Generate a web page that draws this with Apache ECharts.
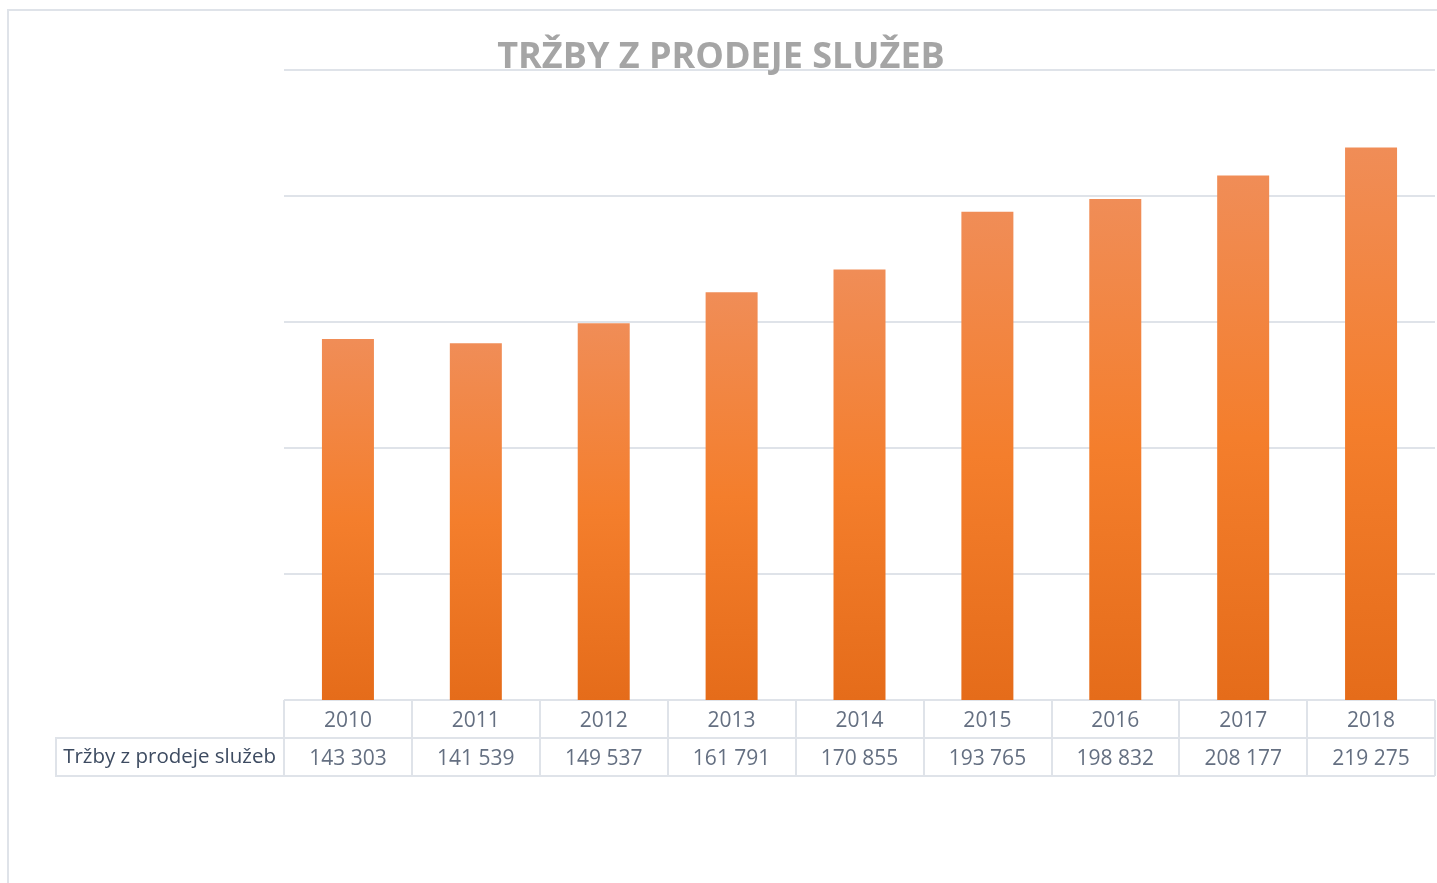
<!DOCTYPE html>
<html>
<head>
<meta charset="utf-8">
<script src="https://cdn.jsdelivr.net/npm/echarts@6/dist/echarts.min.js"></script>
<style>
  html, body { margin: 0; padding: 0; background: #fff; }
  #chart { width: 1437px; height: 883px; }
</style>
</head>
<body>
<div id="chart"></div>
<script>
const years = ['2010', '2011', '2012', '2013', '2014', '2015', '2016', '2017', '2018']
const revenue = [143303, 141539, 149537, 161791, 170855, 193765, 198832, 208177, 219275]
const seriesName = 'Tržby z prodeje služeb'
const rowNames = ['', seriesName]

const lineColor = '#dfe3e9'
const textColor = '#3d4b61'
const font = 'Open Sans'

// 143303 -> "143 303"
function fmt(v) {
  return String(v).replace(/\B(?=(\d{3})+(?!\d))/g, ' ')
}

const chart = echarts.init(document.getElementById('chart'))

chart.setOption({
  animation: false,
  backgroundColor: '#fff',
  title: {
    text: 'TRŽBY Z PRODEJE SLUŽEB',
    left: 716,
    textAlign: 'center',
    top: 35,
    textStyle: { fontFamily: font, fontSize: 36, fontWeight: 'bold', color: '#a5a5a5' }
  },
  graphic: [
    {
      type: 'rect',
      shape: { x: 8, y: 10, width: 1460, height: 900 },
      style: { fill: 'none', stroke: lineColor, lineWidth: 2 },
      silent: true
    },
    {
      // border of the row label cell
      type: 'polyline',
      shape: { points: [[284, 738], [56, 738], [56, 776], [284, 776]] },
      style: { fill: 'none', stroke: lineColor, lineWidth: 2 },
      silent: true
    }
  ],
  grid: [
    { left: 284, right: 2, top: 70, bottom: 183 },
    { left: 284, right: 2, top: 700, height: 76 }
  ],
  xAxis: [
    {
      type: 'category',
      gridIndex: 0,
      data: years,
      axisLine: { show: false },
      axisTick: { show: false },
      axisLabel: { show: false }
    },
    {
      type: 'category',
      gridIndex: 1,
      data: years,
      axisLine: { show: false },
      axisTick: { show: false },
      axisLabel: { show: false },
      splitLine: { show: true, interval: 0, lineStyle: { color: lineColor, width: 2 } }
    }
  ],
  yAxis: [
    {
      type: 'value',
      gridIndex: 0,
      min: 0,
      max: 250000,
      interval: 50000,
      axisLine: { show: false },
      axisTick: { show: false },
      axisLabel: { show: false },
      splitLine: { lineStyle: { color: lineColor, width: 2 } }
    },
    {
      type: 'category',
      gridIndex: 1,
      data: rowNames,
      inverse: true,
      axisLine: { show: false },
      axisTick: { show: false },
      axisLabel: { margin: 8, fontFamily: font, fontSize: 20.5, color: textColor, padding: [4, 0, 0, 0] },
      splitLine: { show: true, interval: 0, lineStyle: { color: lineColor, width: 2 } }
    }
  ],
  series: [
    {
      name: seriesName,
      type: 'bar',
      xAxisIndex: 0,
      yAxisIndex: 0,
      barWidth: 52,
      data: revenue,
      itemStyle: {
        color: new echarts.graphic.LinearGradient(0, 0, 0, 1, [
          { offset: 0, color: '#f08d57' },
          { offset: 0.5, color: '#f47e2c' },
          { offset: 1, color: '#e56c1a' }
        ])
      }
    },
    {
      name: 'years',
      type: 'scatter',
      xAxisIndex: 1,
      yAxisIndex: 1,
      symbolSize: 0,
      data: years.map((y, i) => [i, 0, y]),
      label: {
        show: true,
        position: 'inside',
        offset: [0, 2],
        formatter: p => p.data[2],
        fontFamily: font,
        fontSize: 21,
        color: textColor
      }
    },
    {
      name: 'values',
      type: 'scatter',
      xAxisIndex: 1,
      yAxisIndex: 1,
      symbolSize: 0,
      data: revenue.map((v, i) => [i, 1, v]),
      label: {
        show: true,
        position: 'inside',
        offset: [0, 2],
        formatter: p => fmt(p.data[2]),
        fontFamily: font,
        fontSize: 21,
        color: textColor
      }
    }
  ]
})
</script>
</body>
</html>
